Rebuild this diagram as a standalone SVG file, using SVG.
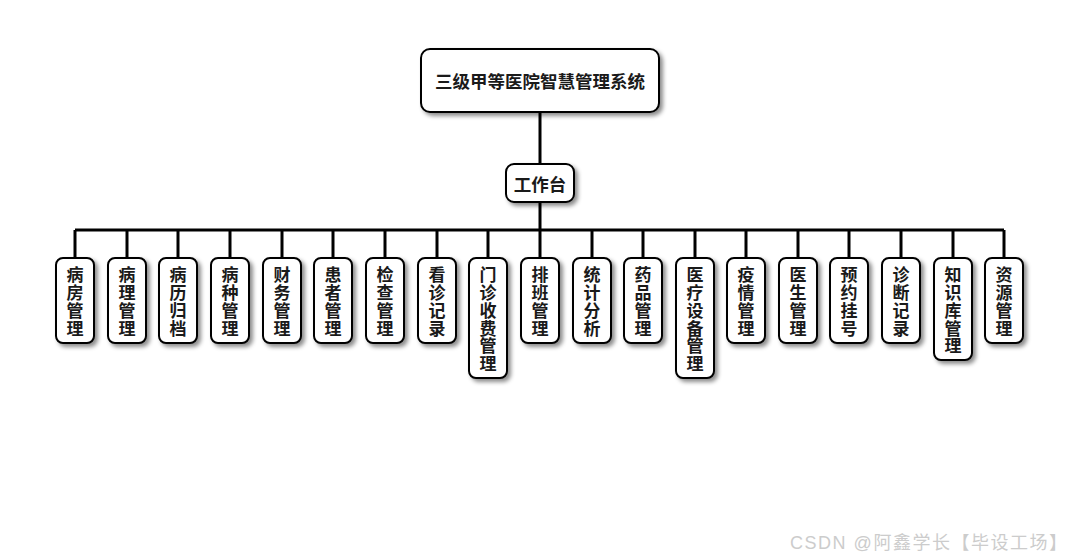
<svg xmlns="http://www.w3.org/2000/svg" width="1080" height="560" viewBox="0 0 1080 560">
<defs>
<filter id="sh" x="-30%" y="-30%" width="160%" height="160%">
<feDropShadow dx="3" dy="3" stdDeviation="2" flood-color="#000" flood-opacity="0.45"/>
</filter>
<style>
.box{fill:#fff;stroke:#000;stroke-width:2;filter:url(#sh)}
.t{font-family:"Noto Sans CJK SC","Noto Sans",sans-serif;font-weight:bold;fill:#1a1a1a;text-anchor:middle}
.v{font-family:"Noto Sans CJK SC","Noto Sans",sans-serif;font-weight:bold;fill:#1a1a1a;font-size:17px;writing-mode:vertical-rl;text-orientation:upright;letter-spacing:0.7px}
.ln{stroke:#000;stroke-width:3;fill:none}
.wm{font-family:"Liberation Sans","Noto Sans CJK SC",sans-serif;font-size:18px;fill:#cccccc}
</style>
</defs>
<rect width="1080" height="560" fill="#fff"/>
<g id="connectors" class="ln">
<line x1="540" y1="112" x2="540" y2="164"/>
<line x1="540" y1="202" x2="540" y2="230"/>
<line x1="75" y1="230" x2="1004" y2="230"/>
<path d="M75 230V258M127 230V258M178 230V258M230 230V258M282 230V258M333 230V258M385 230V258M437 230V258M488 230V258M540 230V258M592 230V258M643 230V258M695 230V258M746 230V258M798 230V258M849 230V258M901 230V258M953 230V258M1004 230V258"/>
</g>
<g id="root"><rect class="box" x="421" y="49" width="238" height="63" rx="9"/><text class="t" x="540" y="88" font-size="17.5">三级甲等医院智慧管理系统</text></g>
<g id="workbench"><rect class="box" x="506" y="164" width="68" height="38" rx="8"/><text class="t" x="540" y="191" font-size="17.5">工作台</text></g>
<g id="n1"><rect class="box" x="56" y="258" width="38" height="85" rx="7"/><text class="v" x="75" y="266.5">病房管理</text></g>
<g id="n2"><rect class="box" x="108" y="258" width="38" height="85" rx="7"/><text class="v" x="127" y="266.5">病理管理</text></g>
<g id="n3"><rect class="box" x="159" y="258" width="38" height="85" rx="7"/><text class="v" x="178" y="266.5">病历归档</text></g>
<g id="n4"><rect class="box" x="211" y="258" width="38" height="85" rx="7"/><text class="v" x="230" y="266.5">病种管理</text></g>
<g id="n5"><rect class="box" x="263" y="258" width="38" height="85" rx="7"/><text class="v" x="282" y="266.5">财务管理</text></g>
<g id="n6"><rect class="box" x="314" y="258" width="38" height="85" rx="7"/><text class="v" x="333" y="266.5">患者管理</text></g>
<g id="n7"><rect class="box" x="366" y="258" width="38" height="85" rx="7"/><text class="v" x="385" y="266.5">检查管理</text></g>
<g id="n8"><rect class="box" x="418" y="258" width="38" height="85" rx="7"/><text class="v" x="437" y="266.5">看诊记录</text></g>
<g id="n9"><rect class="box" x="469" y="258" width="38" height="120" rx="7"/><text class="v" x="488" y="266.5">门诊收费管理</text></g>
<g id="n10"><rect class="box" x="521" y="258" width="38" height="85" rx="7"/><text class="v" x="540" y="266.5">排班管理</text></g>
<g id="n11"><rect class="box" x="573" y="258" width="38" height="85" rx="7"/><text class="v" x="592" y="266.5">统计分析</text></g>
<g id="n12"><rect class="box" x="624" y="258" width="38" height="85" rx="7"/><text class="v" x="643" y="266.5">药品管理</text></g>
<g id="n13"><rect class="box" x="676" y="258" width="38" height="120" rx="7"/><text class="v" x="695" y="266.5">医疗设备管理</text></g>
<g id="n14"><rect class="box" x="727" y="258" width="38" height="85" rx="7"/><text class="v" x="746" y="266.5">疫情管理</text></g>
<g id="n15"><rect class="box" x="779" y="258" width="38" height="85" rx="7"/><text class="v" x="798" y="266.5">医生管理</text></g>
<g id="n16"><rect class="box" x="830" y="258" width="38" height="85" rx="7"/><text class="v" x="849" y="266.5">预约挂号</text></g>
<g id="n17"><rect class="box" x="882" y="258" width="38" height="85" rx="7"/><text class="v" x="901" y="266.5">诊断记录</text></g>
<g id="n18"><rect class="box" x="934" y="258" width="38" height="102" rx="7"/><text class="v" x="953" y="266.5">知识库管理</text></g>
<g id="n19"><rect class="box" x="985" y="258" width="38" height="85" rx="7"/><text class="v" x="1004" y="266.5">资源管理</text></g>
<text class="wm" x="790" y="549" textLength="277" lengthAdjust="spacing">CSDN @阿鑫学长【毕设工场】</text>
</svg>
